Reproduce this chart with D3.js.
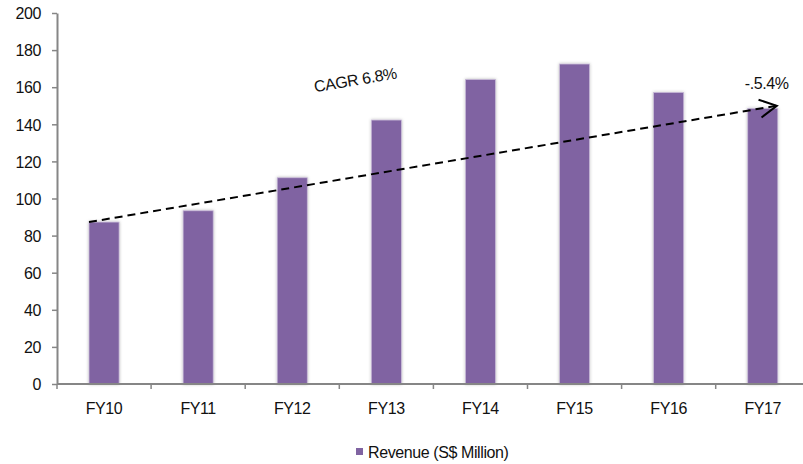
<!DOCTYPE html>
<html>
<head>
<meta charset="utf-8">
<script src="https://cdn.jsdelivr.net/npm/d3@7"></script>
<style>
  body { margin: 0; background: #fff; }
  text { font-family: "Liberation Sans", Arial, sans-serif; fill: #111; letter-spacing: -0.4px; }
</style>
</head>
<body>
<div id="chart"></div>
<script>
const years = ["FY10", "FY11", "FY12", "FY13", "FY14", "FY15", "FY16", "FY17"];
const revenue = [87.3, 93.4, 111.2, 142.3, 164.2, 172.5, 157.2, 148.6];
const yTicks = [0, 20, 40, 60, 80, 100, 120, 140, 160, 180, 200];
const trendStart = 87.3, trendEnd = 150;
const cagrLabel = "CAGR 6.8%";
const lastLabel = "-.5.4%";
const seriesName = "Revenue (S$ Million)";

const width = 803, height = 464;
const margin = { left: 57, top: 13, bottom: 80 };
const purple = "#8064a2", axisColor = "#868686";
const fontSize = 16;

const svg = d3.select("#chart").append("svg")
    .attr("width", width)
    .attr("height", height);

const defs = svg.append("defs");
const shadow = defs.append("filter").attr("id", "shadow")
    .attr("x", "-30%").attr("y", "-10%").attr("width", "160%").attr("height", "120%");
shadow.append("feDropShadow")
    .attr("dx", 0).attr("dy", 0).attr("stdDeviation", 1.6)
    .attr("flood-color", "#000").attr("flood-opacity", 0.28);

defs.append("marker")
    .attr("id", "arrow")
    .attr("markerUnits", "userSpaceOnUse")
    .attr("viewBox", "-20 -12 24 24")
    .attr("refX", 0).attr("refY", 0)
    .attr("markerWidth", 24).attr("markerHeight", 24)
    .attr("orient", "auto")
    .append("path")
    .attr("d", "M-17,-9L0,0L-17,9")
    .attr("fill", "none")
    .attr("stroke", "#000")
    .attr("stroke-width", 2);

const x = d3.scaleBand()
    .domain(years)
    .range([margin.left, margin.left + 94.1 * years.length])
    .paddingInner(0.68)
    .paddingOuter(0.34);

const y = d3.scaleLinear()
    .domain([0, 200])
    .range([384, margin.top]);

// y axis
const yAxis = svg.append("g")
    .attr("transform", `translate(${margin.left},0)`)
    .call(d3.axisLeft(y).tickValues(yTicks).tickSize(5).tickPadding(11).tickSizeOuter(0));
yAxis.attr("font-family", null).attr("font-size", null);
yAxis.select(".domain").attr("stroke", axisColor).attr("stroke-width", 2);
yAxis.selectAll(".tick line").attr("stroke", axisColor).attr("stroke-width", 1.5);
yAxis.selectAll(".tick text").attr("font-size", fontSize).attr("dy", "0.36em").attr("fill", "#111");

// bars
svg.append("g")
    .selectAll("rect")
    .data(years)
    .join("rect")
    .attr("x", d => x(d))
    .attr("y", (d, i) => y(revenue[i]))
    .attr("width", x.bandwidth())
    .attr("height", (d, i) => y(0) - y(revenue[i]))
    .attr("fill", purple)
    .attr("stroke", "#c9bcd8")
    .attr("stroke-width", 0.8)
    .attr("filter", "url(#shadow)");

// x axis
const xAxis = svg.append("g").attr("transform", `translate(0,${y(0)})`);
xAxis.append("line")
    .attr("x1", margin.left).attr("x2", x.range()[1])
    .attr("stroke", axisColor).attr("stroke-width", 2);
xAxis.selectAll(".bound")
    .data(d3.range(years.length + 1))
    .join("line")
    .attr("x1", i => margin.left + i * x.step())
    .attr("x2", i => margin.left + i * x.step())
    .attr("y1", 0).attr("y2", 5)
    .attr("stroke", axisColor).attr("stroke-width", 1.5);
xAxis.selectAll(".lbl")
    .data(years)
    .join("text")
    .attr("x", d => x(d) + x.bandwidth() / 2)
    .attr("y", 29.5)
    .attr("text-anchor", "middle")
    .attr("font-size", fontSize)
    .text(d => d);

// trend line
const x0 = x(years[0]);
const x1 = x(years[years.length - 1]) + x.bandwidth() - 1;
svg.append("line")
    .attr("x1", x0).attr("y1", y(trendStart))
    .attr("x2", x1).attr("y2", y(trendEnd))
    .attr("stroke", "#000")
    .attr("stroke-width", 2)
    .attr("stroke-dasharray", "8,5")
    .attr("marker-end", "url(#arrow)");

const angle = Math.atan2(y(trendEnd) - y(trendStart), x1 - x0) * 180 / Math.PI;
const cx = x("FY12") + x.bandwidth() / 2 + x.step() * 0.68;
svg.append("text")
    .attr("transform", `translate(${cx},${y(161)}) rotate(${angle})`)
    .attr("text-anchor", "middle")
    .attr("font-size", fontSize)
    .text(cagrLabel);

svg.append("text")
    .attr("x", x("FY17") + x.bandwidth() / 2 + 4)
    .attr("y", y(159))
    .attr("text-anchor", "middle")
    .attr("font-size", fontSize)
    .text(lastLabel);

// legend
const legend = svg.append("g").attr("transform", "translate(356,448)");
legend.append("rect").attr("width", 7).attr("height", 7).attr("fill", purple);
legend.append("text").attr("x", 12).attr("y", 10).attr("font-size", fontSize).text(seriesName);
</script>
</body>
</html>
